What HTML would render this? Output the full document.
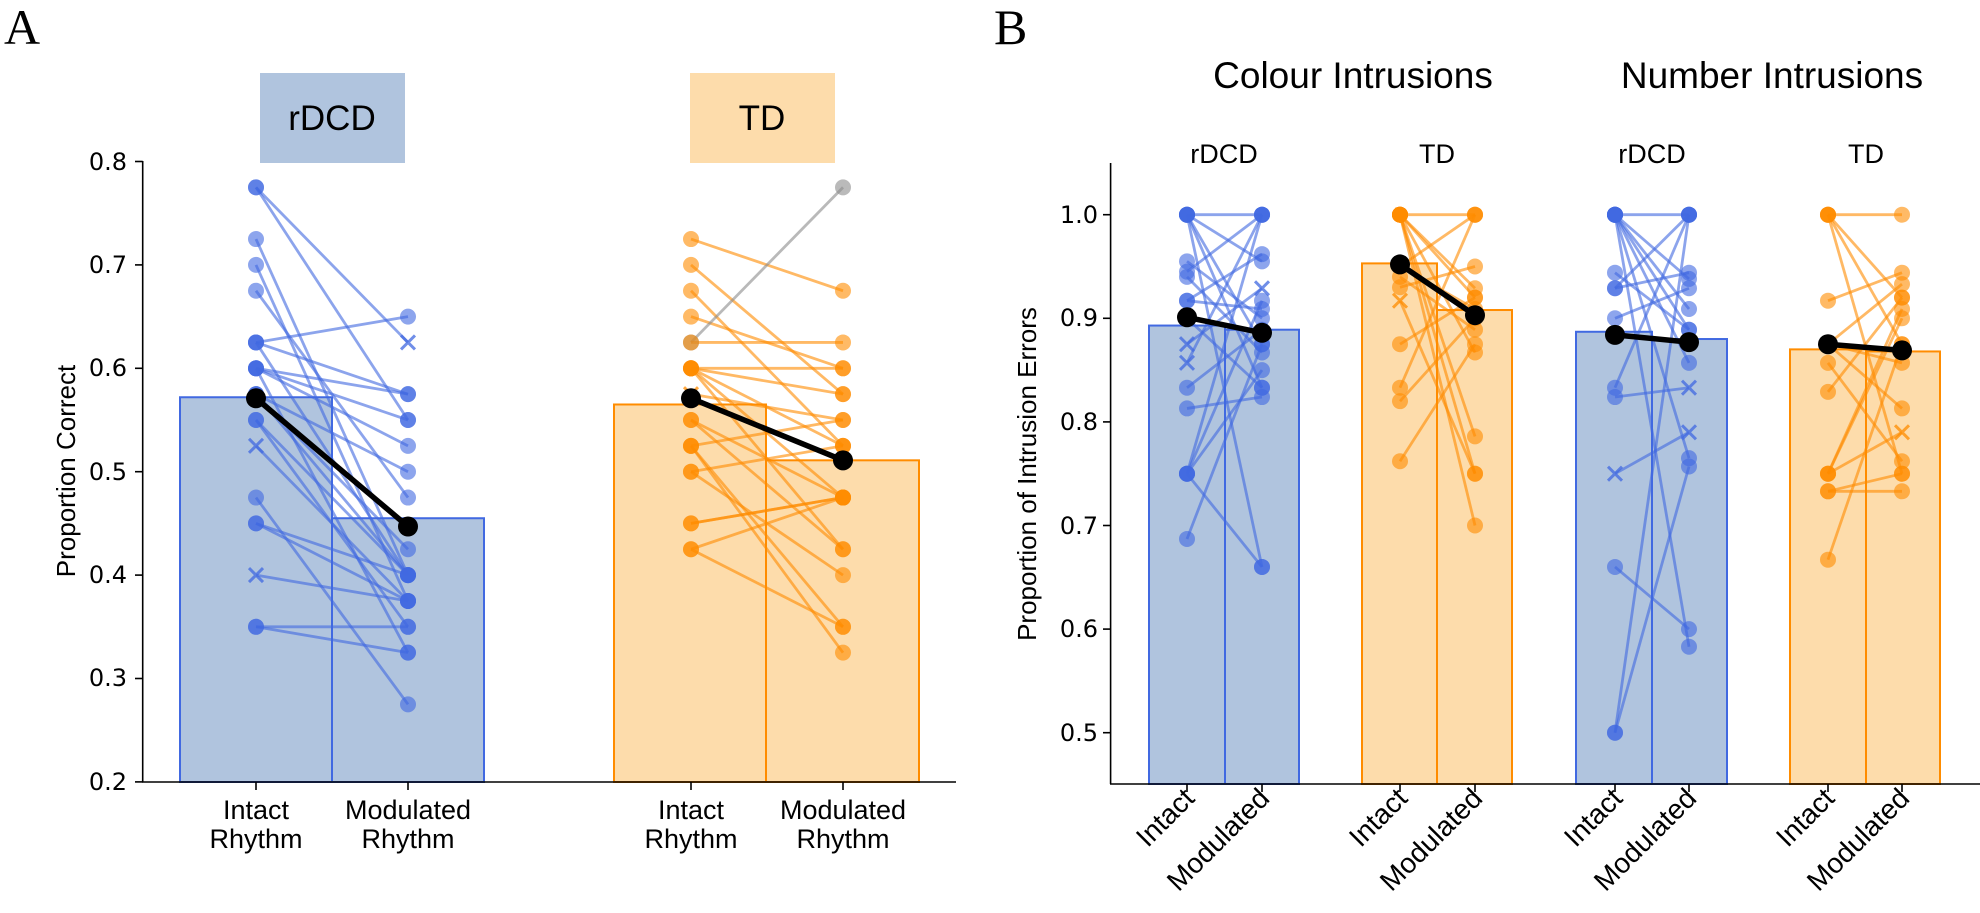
<!DOCTYPE html>
<html><head><meta charset="utf-8"><style>
html,body{margin:0;padding:0;background:#fff;}
svg{display:block;}
.t{font-family:"DejaVu Sans",sans-serif;font-size:24px;fill:#000;}
.l{font-family:"Liberation Sans",sans-serif;fill:#000;}
</style></head><body>
<svg id="s" width="1980" height="913" viewBox="0 0 1980 913" xmlns="http://www.w3.org/2000/svg">
<text x="4" y="44" font-family="Liberation Serif,serif" font-size="50">A</text>
<text x="994" y="44" font-family="Liberation Serif,serif" font-size="50">B</text>
<rect x="260" y="73" width="145" height="90" fill="#b0c4de"/>
<rect x="690" y="73" width="145" height="90" fill="#fddcab"/>
<text class="l" x="332" y="130" font-size="35" text-anchor="middle">rDCD</text>
<text class="l" x="762" y="130" font-size="35" text-anchor="middle">TD</text>
<g id="barsA"></g>
<g id="dataA"></g>
<line x1="142.7" y1="161" x2="142.7" y2="782" stroke="#000" stroke-width="1.6"/>
<line x1="142" y1="782" x2="956" y2="782" stroke="#000" stroke-width="1.6"/>
<g id="ticksA" stroke="#000" stroke-width="1.6"></g>
<g class="t" text-anchor="end">
<text x="127" y="170">0.8</text><text x="127" y="273">0.7</text><text x="127" y="376">0.6</text>
<text x="127" y="480">0.5</text><text x="127" y="583">0.4</text><text x="127" y="686">0.3</text><text x="127" y="790">0.2</text>
</g>
<text class="l" font-size="26" text-anchor="middle" transform="translate(75,471) rotate(-90)">Proportion Correct</text>
<g class="l" font-size="27" text-anchor="middle">
<text x="256" y="819">Intact</text><text x="256" y="848">Rhythm</text>
<text x="408" y="819">Modulated</text><text x="408" y="848">Rhythm</text>
<text x="691" y="819">Intact</text><text x="691" y="848">Rhythm</text>
<text x="843" y="819">Modulated</text><text x="843" y="848">Rhythm</text>
</g>
<text class="l" x="1353" y="88" font-size="37" text-anchor="middle">Colour Intrusions</text>
<text class="l" x="1772" y="88" font-size="37" text-anchor="middle">Number Intrusions</text>
<g class="l" font-size="27" text-anchor="middle">
<text x="1224" y="163">rDCD</text><text x="1437" y="163">TD</text>
<text x="1652" y="163">rDCD</text><text x="1866" y="163">TD</text>
</g>
<g id="barsB"></g>
<g id="dataB"></g>
<line x1="1110.6" y1="163" x2="1110.6" y2="784" stroke="#000" stroke-width="1.6"/>
<line x1="1110" y1="784" x2="1980" y2="784" stroke="#000" stroke-width="1.6"/>
<g id="ticksB" stroke="#000" stroke-width="1.6"></g>
<g class="t" text-anchor="end">
<text x="1098" y="223">1.0</text><text x="1098" y="326">0.9</text><text x="1098" y="430">0.8</text>
<text x="1098" y="534">0.7</text><text x="1098" y="637">0.6</text><text x="1098" y="741">0.5</text>
</g>
<text class="l" font-size="26" text-anchor="middle" transform="translate(1036,474) rotate(-90)">Proportion of Intrusion Errors</text>
<g class="l" font-size="28" text-anchor="end">
<text transform="translate(1196,800) rotate(-45)">Intact</text>
<text transform="translate(1271,800) rotate(-45)">Modulated</text>
<text transform="translate(1409,800) rotate(-45)">Intact</text>
<text transform="translate(1484,800) rotate(-45)">Modulated</text>
<text transform="translate(1624,800) rotate(-45)">Intact</text>
<text transform="translate(1698,800) rotate(-45)">Modulated</text>
<text transform="translate(1836,800) rotate(-45)">Intact</text>
<text transform="translate(1911,800) rotate(-45)">Modulated</text>
</g>
</svg>
<script>
var NS="http://www.w3.org/2000/svg";
function el(p,t,a){var e=document.createElementNS(NS,t);for(var k in a)e.setAttribute(k,a[k]);document.getElementById(p).appendChild(e);return e;}
var BLUE="#4169e1",OR="#ff8c00",BF="#b0c4de",OF="#fddcab";
function yA(v){return 161.5+(0.8-v)*1034;}
function yB(v){return 214.7+(1.0-v)*1036;}
[0.8,0.7,0.6,0.5,0.4,0.3,0.2].forEach(function(v){el("ticksA","line",{x1:135,x2:142.7,y1:yA(v),y2:yA(v)});});
[256,408,691,843].forEach(function(x){el("ticksA","line",{x1:x,x2:x,y1:782,y2:790});});
[1.0,0.9,0.8,0.7,0.6,0.5].forEach(function(v){el("ticksB","line",{x1:1103,x2:1110.6,y1:yB(v),y2:yB(v)});});
[1187,1262,1400,1475,1615,1689,1828,1902].forEach(function(x){el("ticksB","line",{x1:x,x2:x,y1:784,y2:792});});
function bar(g,x,w,y0,y,f,s){el(g,"rect",{x:x,y:y,width:w,height:y0-y,fill:f,stroke:s,"stroke-width":2});}
bar("barsA",180,152,782,yA(0.572),BF,BLUE);bar("barsA",332,152,782,yA(0.455),BF,BLUE);
bar("barsA",614,152,782,yA(0.565),OF,OR);bar("barsA",766,153,782,yA(0.511),OF,OR);
bar("barsB",1149,76,784,yB(0.893),BF,BLUE);bar("barsB",1225,74,784,yB(0.889),BF,BLUE);
bar("barsB",1362,75,784,yB(0.953),OF,OR);bar("barsB",1437,75,784,yB(0.908),OF,OR);
bar("barsB",1576,76,784,yB(0.887),BF,BLUE);bar("barsB",1652,75,784,yB(0.880),BF,BLUE);
bar("barsB",1790,76,784,yB(0.870),OF,OR);bar("barsB",1866,74,784,yB(0.868),OF,OR);
function mark(g,x,y,c,xm,r){if(xm){var d=r;el(g,"path",{d:"M"+(x-d)+","+(y-d)+"L"+(x+d)+","+(y+d)+"M"+(x-d)+","+(y+d)+"L"+(x+d)+","+(y-d),stroke:c,"stroke-width":3,opacity:0.75});}
 else el(g,"circle",{cx:x,cy:y,r:r,fill:c,opacity:0.6});}
function group(g,x1,x2,yf,pairs,c,xs,mean,r,lw){
 pairs.forEach(function(p){var cc=p[2]||c;el(g,"line",{x1:x1,y1:yf(p[0]),x2:x2,y2:yf(p[1]),stroke:cc,"stroke-width":lw,opacity:0.6});});
 pairs.forEach(function(p){var cc=p[2]||c;var xa=xs.a.indexOf(p[0])>=0,xb=xs.b.indexOf(p[1])>=0;
  mark(g,x1,yf(p[0]),cc,xa,xa?r-1:r);mark(g,x2,yf(p[1]),cc,xb,xb?r-1:r);});
 el(g,"line",{x1:x1,y1:yf(mean[0]),x2:x2,y2:yf(mean[1]),stroke:"#000","stroke-width":5.5});
 el(g,"circle",{cx:x1,cy:yf(mean[0]),r:r+2,fill:"#000"});el(g,"circle",{cx:x2,cy:yf(mean[1]),r:r+2,fill:"#000"});}
var GR="#8c8c8c";
group("dataA",256,408,yA,[[0.775,0.55],[0.775,0.625],[0.725,0.4],[0.7,0.375],[0.675,0.475],[0.625,0.65],[0.625,0.575],[0.625,0.4],[0.6,0.575],[0.6,0.55],[0.6,0.525],[0.575,0.5],[0.575,0.425],[0.575,0.4],[0.55,0.4],[0.55,0.35],[0.525,0.375],[0.475,0.275],[0.45,0.4],[0.45,0.375],[0.4,0.375],[0.35,0.35],[0.35,0.325],[0.6,0.325]],BLUE,{a:[0.525,0.4],b:[0.625]},[0.571,0.447],8,2.8);
group("dataA",691,843,yA,[[0.725,0.675],[0.7,0.575],[0.675,0.525],[0.65,0.6],[0.625,0.775,GR],[0.625,0.625],[0.6,0.6],[0.6,0.575],[0.6,0.475],[0.6,0.425],[0.575,0.55],[0.55,0.425],[0.525,0.55],[0.525,0.35],[0.525,0.325],[0.5,0.525],[0.5,0.4],[0.45,0.475],[0.45,0.475],[0.425,0.475],[0.425,0.35],[0.55,0.475],[0.6,0.525]],OR,{a:[0.575],b:[]},[0.571,0.511],8,2.8);
group("dataB",1187,1262,yB,[[1,1],[1,0.955],[1,0.875],[1,0.66],[1,0.833],[0.955,0.9],[0.945,1],[0.94,0.867],[0.917,0.909],[0.917,0.962],[0.875,0.929],[0.857,1],[0.833,0.889],[0.813,0.824],[0.75,1],[0.75,0.917],[0.75,0.85],[0.75,0.66],[0.687,0.875],[0.9,0.833]],BLUE,{a:[0.875,0.857],b:[0.929]},[0.901,0.886],8,2.8);
group("dataB",1400,1475,yB,[[1,1],[1,0.929],[1,0.75],[1,0.7],[1,0.867],[1,0.786],[0.95,0.909],[0.94,0.889],[0.93,0.95],[0.917,0.75],[0.875,0.92],[0.833,1],[0.82,0.9],[0.762,0.875],[1,0.92],[0.95,1]],OR,{a:[0.917],b:[]},[0.952,0.903],8,2.8);
group("dataB",1615,1689,yB,[[1,1],[1,0.938],[1,0.857],[1,0.765],[1,0.583],[1,0.909],[0.944,0.889],[0.929,0.944],[0.929,1],[0.9,0.929],[0.833,1],[0.824,0.833],[0.75,0.79],[0.66,0.6],[0.5,1],[0.5,0.757],[1,0.889]],BLUE,{a:[0.75],b:[0.79,0.833]},[0.884,0.877],8,2.8);
group("dataB",1828,1902,yB,[[1,1],[1,0.875],[1,0.75],[0.917,0.944],[0.875,0.933],[0.875,0.857],[0.857,0.762],[0.829,0.92],[0.75,0.909],[0.75,0.79],[0.75,0.9],[0.733,0.75],[0.733,0.733],[0.667,0.875],[0.875,0.813],[1,0.92]],OR,{a:[],b:[0.79]},[0.875,0.869],8,2.8);
</script>
</body></html>
